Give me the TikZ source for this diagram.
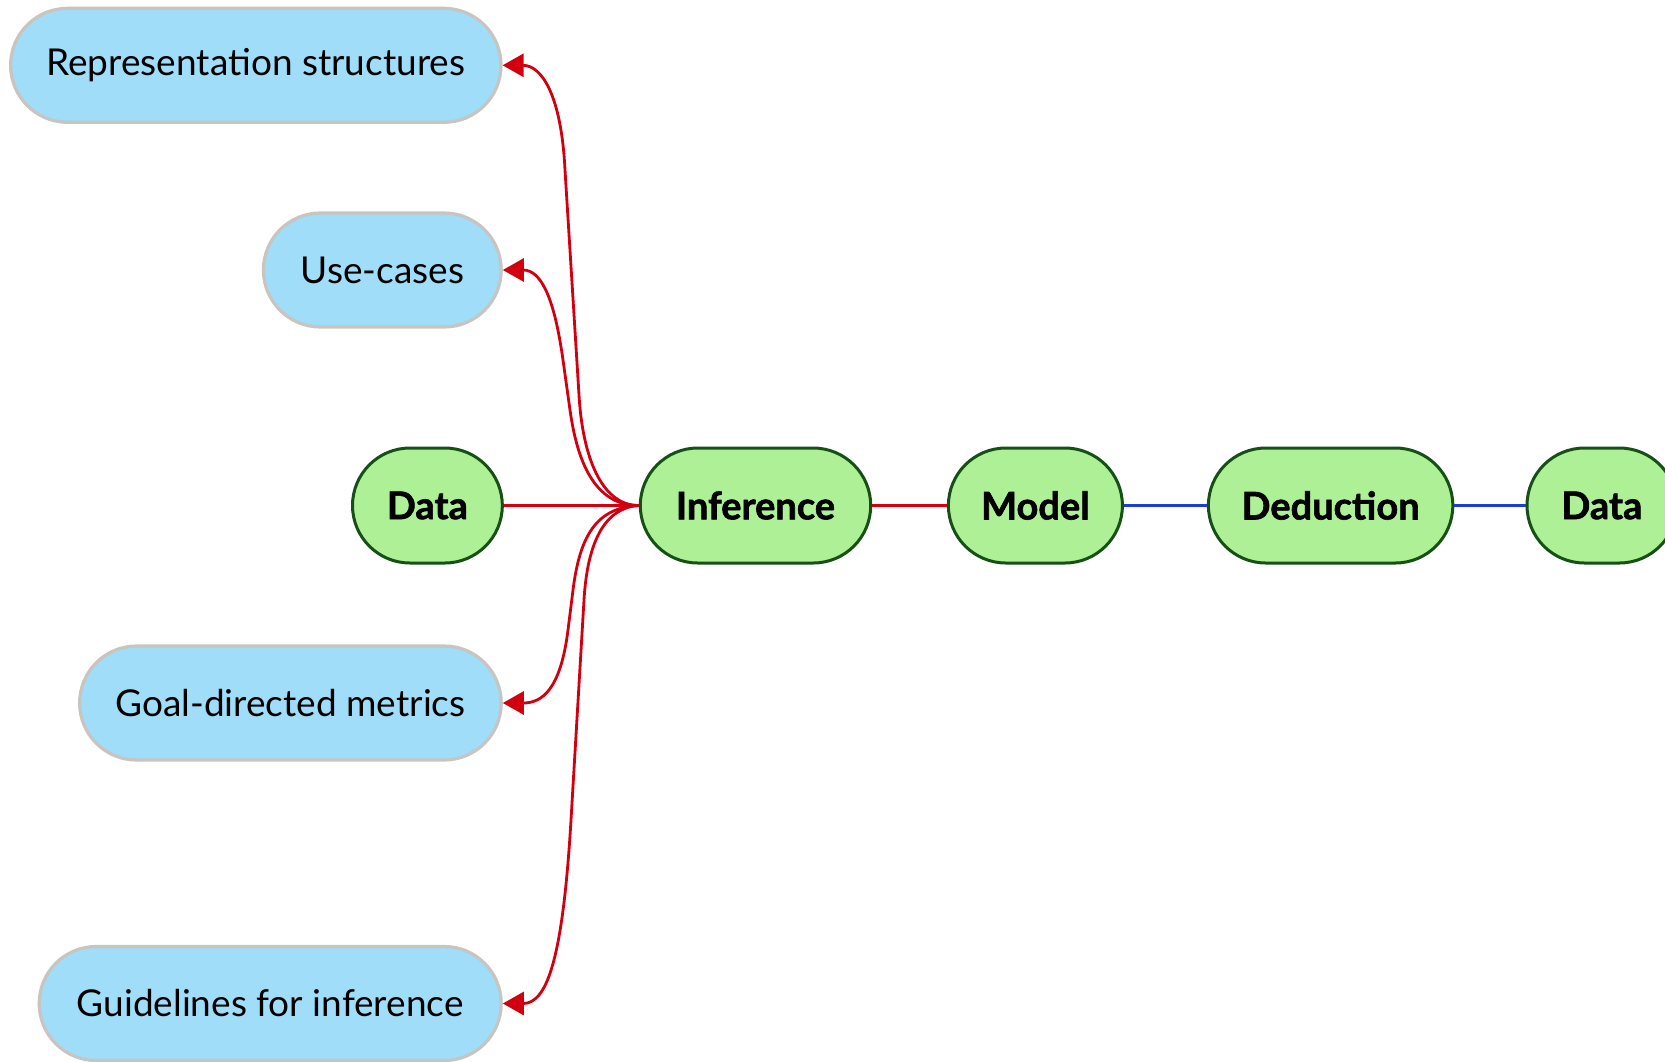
\documentclass[tikz,border=0pt]{standalone}
\usepackage{fontspec}
\setmainfont{Lato}
\newfontfamily\stagefont{Lato}[BoldFeatures={FakeBold=1.6}]
\usetikzlibrary{arrows.meta}

\definecolor{topicfill}{RGB}{160,221,248}
\definecolor{topicedge}{RGB}{200,196,192}
\definecolor{stagefill}{RGB}{174,240,150}
\definecolor{stageedge}{RGB}{22,80,22}
\definecolor{flowred}{RGB}{208,0,16}
\definecolor{linkblue}{RGB}{30,62,210}

\begin{document}
\begin{tikzpicture}[x=0.5pt,y=-0.5pt,
  topic/.style={draw=topicedge, fill=topicfill, line width=1.6pt,
    rounded corners=28.5pt, minimum height=57pt, inner sep=0pt,
    font=\fontsize{18.5}{22}\selectfont},
  stage/.style={draw=stageedge, fill=stagefill, line width=1.5pt,
    rounded corners=28.75pt, minimum height=57.5pt, inner sep=0pt,
    font=\fontsize{19}{23}\selectfont\stagefont\bfseries},
  feed/.style={draw=flowred, line width=1.4pt},
  link/.style={draw=linkblue, line width=1.4pt},
  flow/.style={draw=flowred, line width=1.4pt,
    -{Triangle[length=10.5pt,width=11.5pt]}}
]
\useasboundingbox (0,0) rectangle (1665,1061);

% outcome boxes on the left
\node[topic, minimum width=245.2pt] (rs) at (255.8,65.3) {Representation structures};
\node[topic, minimum width=118.9pt] (uc) at (382.3,270) {Use-cases};
\node[topic, minimum width=210.8pt] (gm) at (290.4,703) {Goal-directed metrics};
\node[topic, minimum width=231pt]   (gi) at (270.2,1003.5) {Guidelines for inference};

% main chain
\node[stage, minimum width=74.9pt]  (din)  at (427.4,505.5) {Data};
\node[stage, minimum width=115.2pt] (inf)  at (755.5,505.5) {Inference};
\node[stage, minimum width=87pt]    (mod)  at (1035.4,505.5) {Model};
\node[stage, minimum width=122.2pt] (ded)  at (1330.6,505.5) {Deduction};
\node[stage, minimum width=74.9pt]  (dout) at (1601.9,505.5) {Data};

\draw[feed] (din.east) -- (inf.west);
\draw[feed] (inf.east) -- (mod.west);
\draw[link] (mod.east) -- (ded.west);
\draw[link] (ded.east) -- (dout.west);

% branches fanning out of Inference
\draw[flow] (inf.west) .. controls +(-38,0) and +(3.4,60) .. (579,395)
  -- (565,170) .. controls +(-3.7,-75) and +(39,0) .. (rs.east);
\draw[flow] (inf.west) .. controls +(-45,0) and +(7,50) .. (570,410)
  -- (563,360) .. controls +(-8.4,-60) and +(39,0) .. (uc.east);
\draw[flow] (inf.west) .. controls +(-42,2) and +(6.9,-55) .. (573,590)
  -- (568,630) .. controls +(-7.5,60) and +(39,0) .. (gm.east);
\draw[flow] (inf.west) .. controls +(-33,2) and +(3.5,-60) .. (584,600)
  -- (571,820) .. controls +(-8.3,140) and +(44,0) .. (gi.east);
\end{tikzpicture}
\end{document}
